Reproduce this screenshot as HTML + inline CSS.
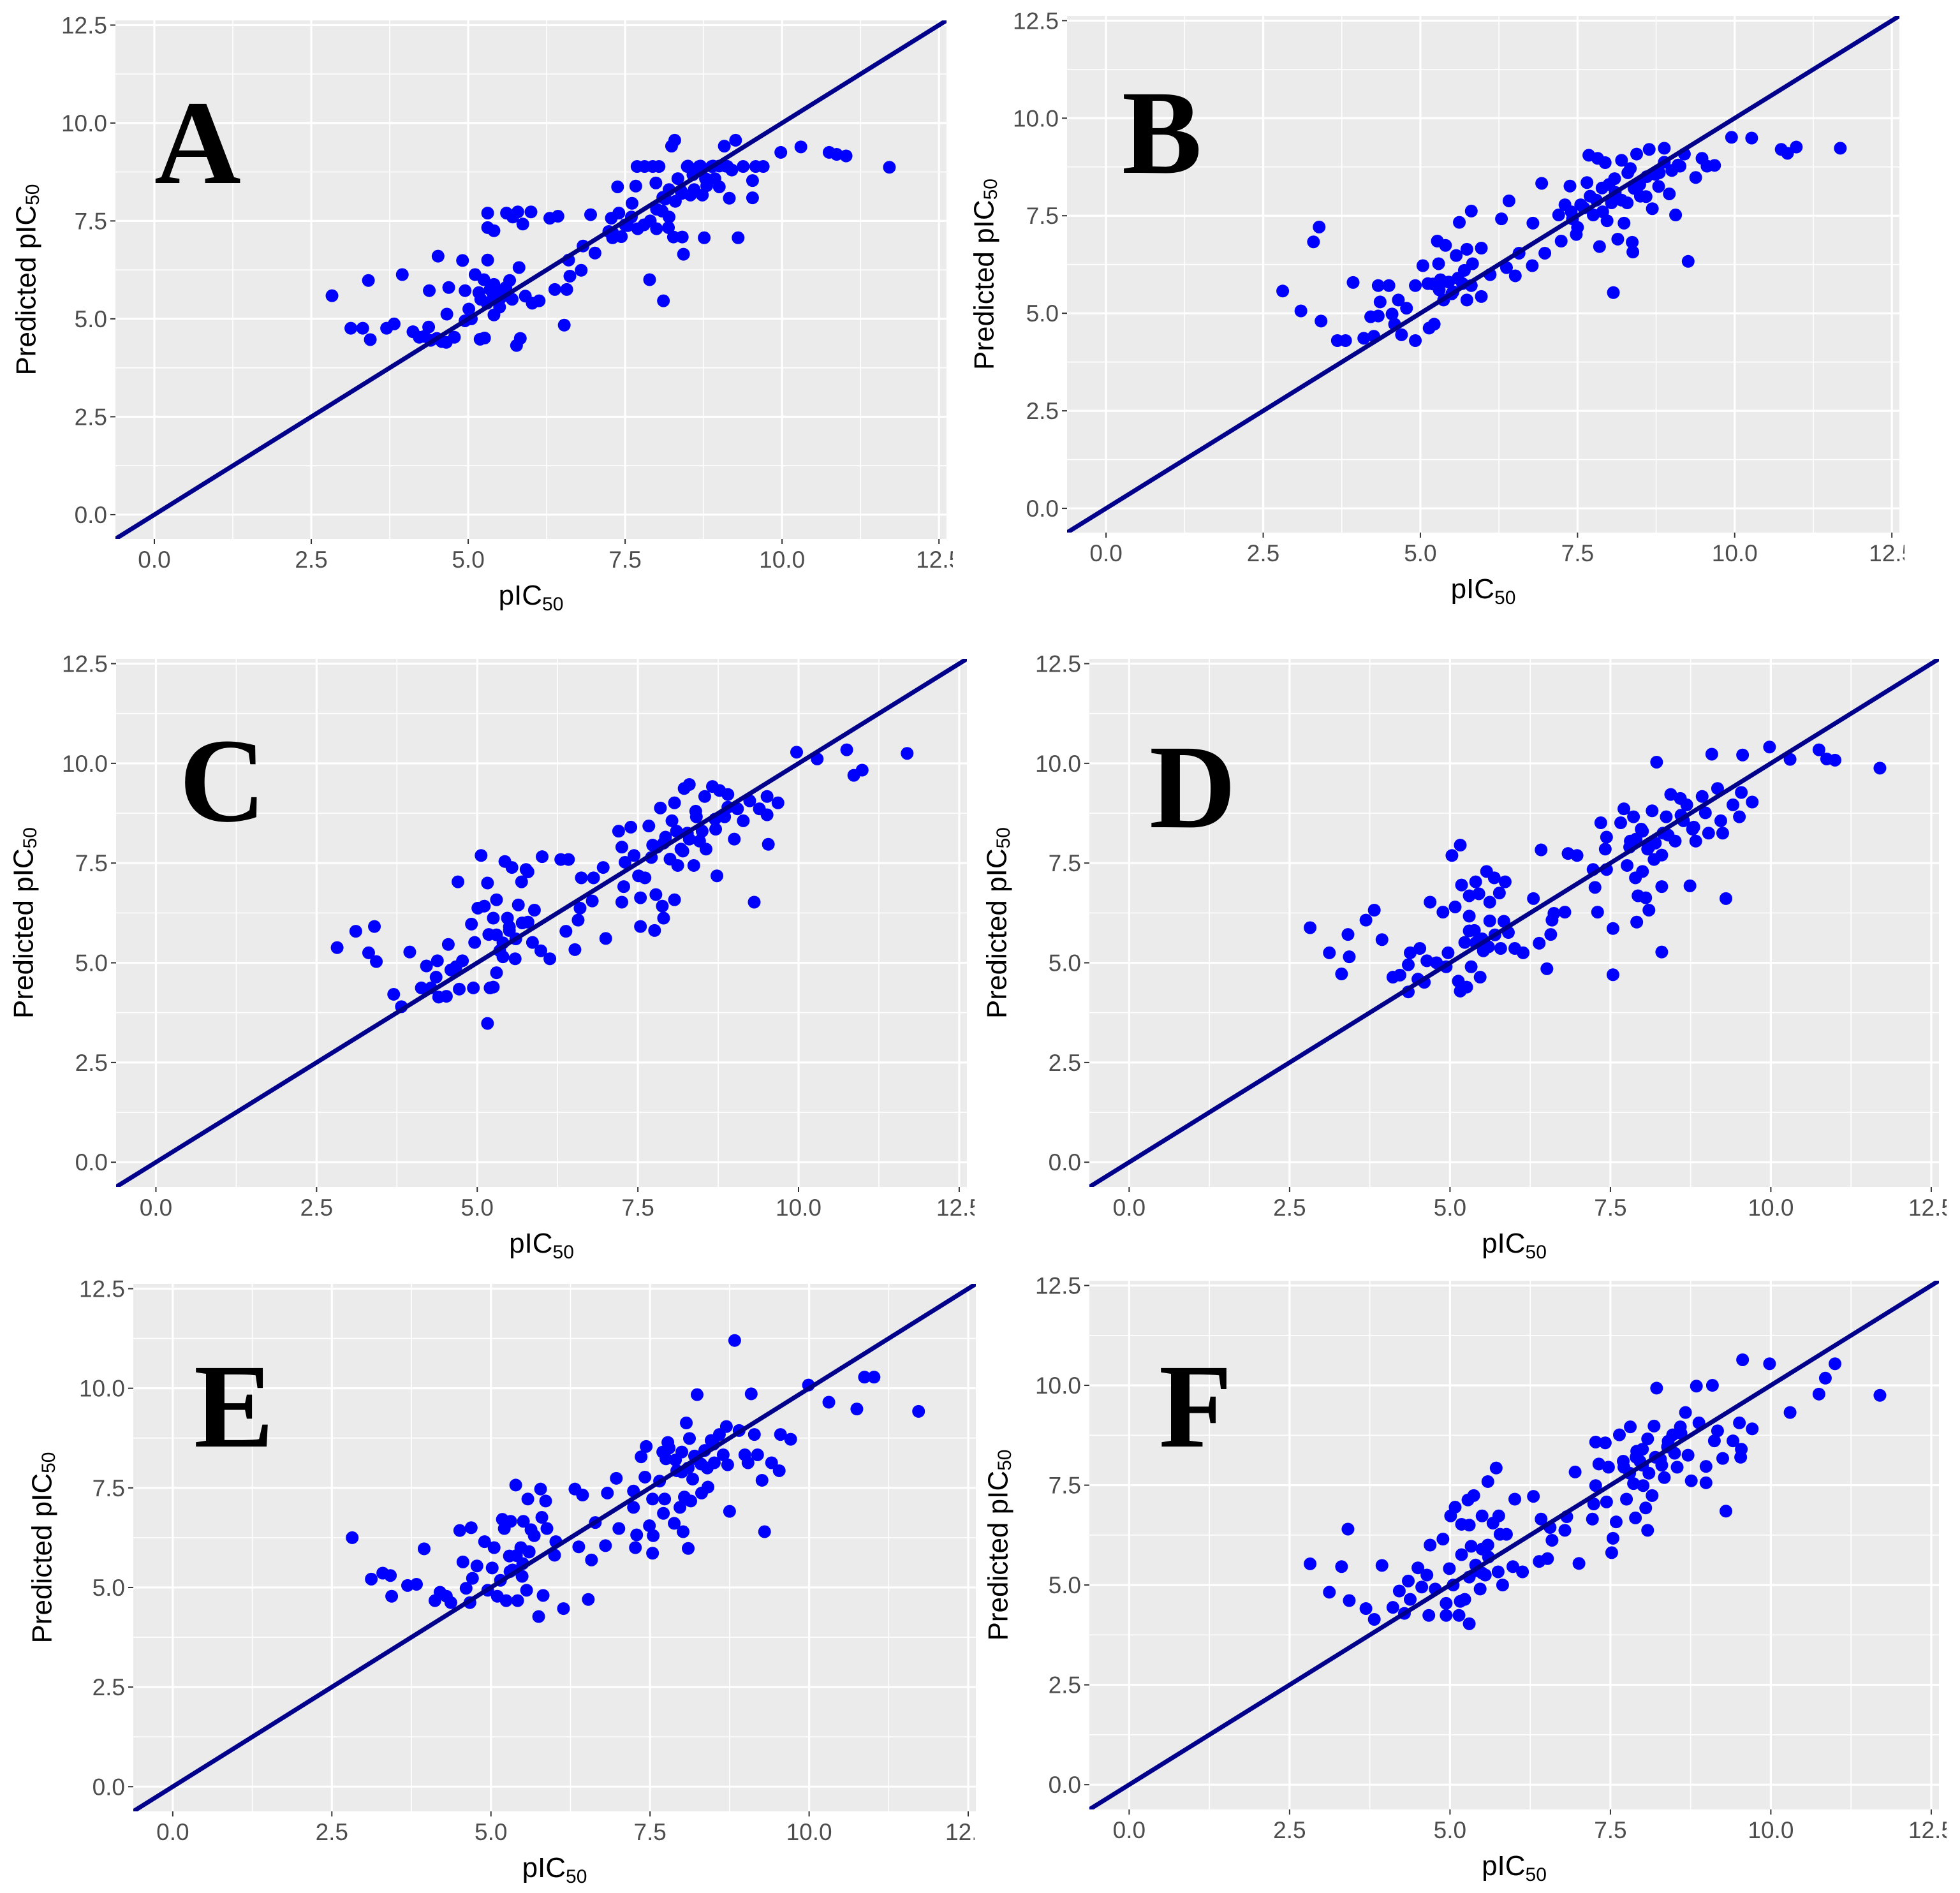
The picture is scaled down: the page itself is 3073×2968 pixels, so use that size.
<!DOCTYPE html>
<html><head><meta charset="utf-8"><style>
html,body{margin:0;padding:0;background:#fff;}
svg{display:block;}
text{font-family:"Liberation Sans",sans-serif;}
</style></head><body>
<svg id="fig" width="3073" height="2968" viewBox="0 0 3073 2968" xmlns="http://www.w3.org/2000/svg"></svg>
<script>
const tickValues = [0, 2.5, 5, 7.5, 10, 12.5];
const tickLabels = ["0.0", "2.5", "5.0", "7.5", "10.0", "12.5"];
const minorValues = [1.25, 3.75, 6.25, 8.75, 11.25];
const panelLetters = ["A", "B", "C", "D", "E", "F"];

const aX = [2.83,3.13,3.32,3.44,3.41,3.7,3.82,3.95,4.12,4.22,4.37,4.38,4.52,4.58,4.69,4.66,4.78,4.91,4.95,5.01,5.11,5.17,5.19,5.26,5.31,5.31,5.41,5.31,5.41,5.41,5.51,5.61,5.66,5.71,5.79,5.77,5.83,5.87,5.81,5.91,6.02,6.0,6.13,6.3,6.43,6.38,6.53,6.57,6.6,6.62,6.8,6.83,6.95,7.02,7.28,7.24,7.3,7.4,7.38,7.44,7.54,7.61,7.67,7.69,7.81,7.89,7.94,7.99,8.04,8.09,8.11,8.14,8.19,8.24,8.29,8.27,8.34,8.39,8.41,8.43,8.49,8.54,8.58,8.68,8.73,8.76,8.78,8.88,8.93,9.0,9.08,9.13,9.16,9.26,9.3,9.38,9.53,9.53,9.58,9.7,9.98,10.3,10.75,10.87,11.02,11.71,5.2,5.3,5.4,5.5,5.6,5.7,5.5,5.35,5.6,5.25,5.05,4.95,7.6,7.8,7.9,8.0,8.1,8.2,8.3,8.4,7.7,8.0,8.2,8.6,8.8,9.0,9.2,8.5,8.7,8.9,9.1,7.5,7.3,4.4,4.5,4.3,4.65];
const aY = [5.59,4.76,4.76,4.47,5.98,4.76,4.87,6.13,4.67,4.53,4.79,5.72,6.6,4.42,5.8,5.12,4.53,6.49,5.72,5.25,6.13,5.67,4.48,4.51,7.7,7.33,7.25,6.5,5.1,5.88,5.67,7.7,5.98,7.6,7.73,4.32,4.5,7.42,6.31,5.58,5.4,7.73,5.46,7.57,7.62,5.75,4.84,5.75,6.5,6.09,6.24,6.86,7.66,6.68,7.57,7.23,7.07,7.7,8.37,7.1,7.38,7.95,8.39,8.89,8.89,6.0,8.89,8.47,8.89,7.75,5.46,8.06,7.33,9.41,9.56,7.09,8.58,8.27,7.09,6.65,8.89,8.16,8.68,8.89,8.16,7.07,8.58,8.89,8.58,8.37,9.41,8.89,8.08,9.56,7.07,8.89,8.53,8.09,8.89,8.89,9.25,9.39,9.25,9.2,9.16,8.87,5.5,5.4,5.6,5.5,5.6,5.5,5.3,5.75,5.8,6.0,5.0,4.95,7.6,7.4,7.5,7.8,8.1,8.3,8.0,8.2,7.3,7.3,7.6,8.3,8.4,8.9,8.8,8.9,8.9,8.9,8.9,7.4,7.2,4.45,4.5,4.55,4.4];

const bX = [2.81,3.1,3.3,3.39,3.42,3.68,3.81,3.93,4.1,4.21,4.26,4.33,4.36,4.33,4.5,4.55,4.59,4.65,4.7,4.78,4.92,4.92,5.04,5.12,5.14,5.22,5.27,5.29,5.32,5.4,5.37,5.52,5.57,5.62,5.67,5.74,5.74,5.81,5.83,5.81,5.97,5.97,6.11,6.29,6.37,6.41,6.51,6.57,6.78,6.79,6.93,6.98,7.2,7.24,7.3,7.38,7.42,7.48,7.55,7.65,7.68,7.75,7.82,7.85,7.89,7.94,7.97,8.04,8.07,8.09,8.14,8.2,8.24,8.29,8.34,8.37,8.38,8.44,8.49,8.59,8.64,8.69,8.74,8.79,8.88,8.88,8.96,9.0,9.06,9.13,9.2,9.26,9.38,9.48,9.56,9.68,9.95,10.27,10.74,10.84,10.98,11.68,5.3,5.45,5.6,5.5,5.2,5.7,7.6,7.8,7.9,8.1,8.2,8.4,8.6,7.7,8.0,8.3,7.4,7.5,8.5,8.8,9.1];
const bY = [5.57,5.06,6.83,7.21,4.8,4.3,4.3,5.79,4.36,4.91,4.41,5.71,5.29,4.93,5.71,4.98,4.72,5.34,4.45,5.13,4.3,5.71,6.22,5.76,4.62,4.72,6.85,6.27,5.86,6.74,5.34,5.55,6.48,7.33,5.76,6.64,5.34,7.62,6.27,5.71,6.67,5.43,5.99,7.42,6.17,7.88,5.96,6.54,6.22,7.31,8.33,6.54,7.52,6.85,7.78,8.26,7.42,7.02,7.78,8.35,9.05,7.52,8.97,6.71,8.21,8.86,7.37,7.83,5.53,8.45,6.9,8.92,7.31,7.83,8.71,6.82,6.57,9.08,8.3,7.99,9.2,7.68,8.56,8.25,9.23,8.87,8.06,8.66,7.52,8.77,9.08,6.33,8.48,8.97,8.77,8.79,9.51,9.49,9.2,9.1,9.26,9.23,5.6,5.8,5.9,5.5,5.75,6.1,7.7,7.9,7.6,8.1,7.9,8.2,8.5,8.0,8.3,8.6,7.6,7.2,8.0,8.6,8.8];

const cX = [2.82,3.11,3.31,3.4,3.43,3.7,3.82,3.95,4.13,4.21,4.28,4.36,4.38,4.4,4.52,4.55,4.59,4.67,4.7,4.72,4.77,4.91,4.94,4.96,5.01,5.06,5.11,5.16,5.16,5.2,5.18,5.25,5.25,5.3,5.3,5.35,5.4,5.43,5.47,5.5,5.54,5.59,5.64,5.69,5.76,5.79,5.79,5.86,5.89,6.01,5.99,6.13,6.3,6.42,6.38,6.52,6.57,6.62,6.6,6.81,6.79,6.96,7.0,7.2,7.25,7.25,7.28,7.3,7.39,7.44,7.51,7.54,7.54,7.61,7.67,7.71,7.73,7.76,7.78,7.85,7.88,7.9,7.93,8.03,8.07,8.07,8.12,8.17,8.22,8.27,8.3,8.37,8.41,8.46,8.54,8.56,8.66,8.71,8.73,8.77,8.85,8.9,9.0,9.05,9.14,9.24,9.39,9.51,9.53,9.31,9.51,9.68,9.97,10.29,10.75,10.86,10.99,11.69,5.3,5.5,5.6,5.4,5.7,7.9,8.1,8.3,8.0,8.2,8.5,8.7,8.9,8.4,7.8];
const cY = [5.38,5.79,5.25,5.91,5.03,4.21,3.9,5.27,4.37,4.92,4.37,4.64,5.05,4.14,4.16,5.46,4.82,4.9,7.03,4.34,5.05,5.97,4.37,5.51,6.37,7.69,6.42,7.0,3.48,4.37,5.71,4.39,6.12,6.58,4.75,5.3,5.15,7.54,6.12,5.81,7.39,5.1,6.45,7.03,7.34,7.28,6.02,5.51,6.32,7.66,5.3,5.1,7.59,7.59,5.79,5.33,6.07,7.13,6.37,7.13,6.55,7.39,5.61,8.3,6.52,7.9,6.91,7.52,8.4,7.69,7.18,6.63,5.91,7.13,8.43,7.64,7.95,5.81,6.71,8.88,6.42,6.12,8.15,8.56,9.01,6.58,7.44,7.85,9.37,8.25,9.47,7.44,8.66,8.05,9.17,7.85,9.42,8.35,7.18,9.32,8.66,9.22,8.1,8.86,8.56,9.06,8.86,8.71,7.97,6.52,9.17,9.01,10.28,10.11,10.34,9.7,9.83,10.25,5.7,5.9,5.6,5.5,6.0,8.0,8.3,8.1,7.6,7.8,8.3,8.6,8.9,8.8,7.9];

const dX = [2.82,3.12,3.31,3.41,3.43,3.69,3.82,3.94,4.11,4.22,4.35,4.35,4.38,4.5,4.53,4.6,4.64,4.69,4.79,4.89,4.94,4.97,5.03,5.08,5.13,5.16,5.16,5.18,5.23,5.26,5.3,5.3,5.33,5.38,5.4,5.45,5.47,5.52,5.57,5.62,5.62,5.69,5.77,5.79,5.84,5.86,5.91,6.01,6.14,6.3,6.39,6.42,6.51,6.57,6.59,6.62,6.79,6.84,6.98,7.23,7.26,7.3,7.35,7.42,7.44,7.44,7.54,7.54,7.66,7.71,7.76,7.81,7.86,7.89,7.91,7.93,7.98,8.0,8.05,8.08,8.1,8.15,8.18,8.22,8.3,8.3,8.32,8.37,8.44,8.51,8.59,8.64,8.69,8.74,8.78,8.83,8.93,8.98,9.03,9.08,9.17,9.22,9.25,9.3,9.41,9.51,9.54,9.56,9.71,9.98,10.3,10.75,10.87,11.0,11.7,5.4,5.5,5.6,5.3,5.7,7.9,8.0,8.1,7.8,8.2,8.4,8.6,8.8,8.3];
const dY = [5.88,5.25,4.72,5.71,5.15,6.07,6.32,5.58,4.64,4.69,4.27,4.95,5.25,4.59,5.36,4.51,5.05,6.52,5.0,6.27,4.9,5.25,7.69,6.4,4.54,7.95,4.29,6.95,5.51,4.39,6.68,6.17,4.9,5.81,7.03,6.73,4.64,5.3,7.29,6.52,6.05,7.13,6.75,5.36,6.04,7.03,5.76,5.36,5.25,6.61,5.49,7.83,4.85,5.71,6.07,6.24,6.27,7.74,7.69,7.34,6.89,6.27,8.51,7.85,8.15,7.34,5.86,4.7,8.51,8.86,7.44,8.05,8.66,7.13,6.02,6.68,8.35,7.29,6.63,7.85,6.32,8.81,7.59,10.03,6.91,5.27,8.25,8.66,9.22,8.05,9.12,8.56,8.96,6.93,8.35,8.05,9.17,8.76,8.25,10.23,9.37,8.56,8.25,6.61,8.96,8.66,9.27,10.21,9.03,10.41,10.1,10.34,10.11,10.08,9.88,5.5,5.6,5.4,5.8,5.7,8.1,8.3,7.9,7.9,8.0,8.2,8.7,8.4,7.7];

const eX = [2.82,3.12,3.3,3.42,3.44,3.69,3.83,3.95,4.12,4.2,4.3,4.37,4.51,4.56,4.61,4.67,4.69,4.71,4.78,4.9,4.95,5.02,5.05,5.1,5.15,5.18,5.21,5.24,5.29,5.31,5.34,5.39,5.42,5.47,5.49,5.51,5.56,5.58,5.6,5.63,5.68,5.75,5.78,5.8,5.82,5.86,5.88,6.0,6.02,6.14,6.32,6.38,6.44,6.53,6.58,6.64,6.8,6.83,6.97,7.01,7.24,7.24,7.27,7.29,7.36,7.42,7.44,7.49,7.54,7.54,7.55,7.65,7.71,7.73,7.75,7.78,7.88,7.92,7.97,8.02,8.04,8.07,8.1,8.12,8.14,8.17,8.22,8.24,8.31,8.36,8.41,8.46,8.51,8.59,8.65,8.7,8.75,8.72,8.83,8.9,8.99,9.04,9.09,9.14,9.19,9.26,9.3,9.41,9.53,9.55,9.71,9.99,10.31,10.75,10.87,11.02,11.72,5.4,5.5,5.6,5.3,7.9,8.0,8.1,7.8,8.2,8.3,8.5,7.7,8.0,8.4];
const eY = [6.25,5.21,5.36,5.3,4.78,5.05,5.08,5.97,4.67,4.88,4.78,4.62,6.43,5.64,4.98,4.62,6.5,5.23,5.54,6.15,4.93,5.49,6.0,4.78,5.18,6.71,6.48,4.67,5.79,6.66,5.44,7.57,4.67,6.0,5.28,6.66,4.93,7.22,5.89,6.45,6.3,4.27,7.47,6.76,4.8,7.17,6.48,5.81,6.15,4.47,7.47,6.02,7.32,4.7,5.69,6.63,6.05,7.37,7.74,6.48,7.42,7.01,6.0,6.32,8.28,7.77,8.54,6.55,7.22,5.86,6.3,7.67,6.86,7.22,8.23,8.64,6.61,7.93,7.01,6.4,7.27,9.13,5.98,8.74,7.17,7.72,8.23,9.84,7.37,8.44,7.52,8.69,8.13,8.84,8.33,9.04,6.91,8.08,11.2,8.94,8.33,8.13,9.86,8.84,8.33,7.69,6.4,8.13,7.93,8.84,8.72,10.08,9.65,9.48,10.28,10.28,9.42,5.8,5.6,5.9,5.4,8.2,8.4,8.0,8.5,8.3,8.1,8.6,8.4,7.9,8.0];

const fX = [2.82,3.12,3.31,3.41,3.43,3.69,3.82,3.94,4.11,4.21,4.29,4.35,4.38,4.5,4.56,4.64,4.67,4.69,4.77,4.89,4.94,4.94,4.99,5.01,5.05,5.08,5.14,5.16,5.18,5.18,5.23,5.28,5.3,5.3,5.33,5.37,5.42,5.47,5.5,5.55,5.59,5.59,5.67,5.72,5.75,5.76,5.78,5.82,5.88,5.98,6.01,6.13,6.3,6.39,6.42,6.52,6.56,6.59,6.79,6.82,6.95,7.01,7.22,7.24,7.27,7.27,7.32,7.42,7.44,7.47,7.52,7.54,7.59,7.64,7.71,7.75,7.81,7.86,7.89,7.91,7.96,8.01,8.05,8.08,8.08,8.15,8.18,8.22,8.28,8.34,8.39,8.47,8.54,8.59,8.67,8.71,8.76,8.84,8.88,8.99,8.99,9.09,9.12,9.17,9.25,9.3,9.41,9.51,9.53,9.54,9.56,9.71,9.98,10.3,10.75,10.85,11.0,11.7,5.4,5.5,5.6,5.5,5.3,7.9,8.0,8.1,8.2,7.8,8.3,8.4,8.5,8.6,7.7,8.0];
const fY = [5.53,4.82,5.46,6.4,4.61,4.41,4.14,5.49,4.44,4.85,4.29,5.1,4.64,5.43,4.95,5.25,4.24,6.0,4.9,6.15,4.54,4.24,5.41,6.73,5.0,6.95,4.24,4.59,6.52,5.76,4.64,7.13,6.5,4.03,5.97,7.24,5.36,4.9,6.73,5.25,7.59,6.0,6.55,7.93,5.33,6.73,6.27,5.0,6.27,5.46,7.15,5.33,7.22,5.59,6.65,5.66,6.44,6.12,6.37,6.71,7.83,5.54,6.65,7.03,7.49,8.58,8.03,8.56,7.08,7.95,5.81,6.17,6.58,8.76,7.95,7.15,8.96,7.54,6.68,8.35,8.1,7.49,6.93,6.37,8.66,7.24,8.98,9.93,8.15,7.69,8.46,8.76,7.95,8.96,9.32,8.25,7.61,9.98,9.06,7.56,7.97,10.0,8.61,8.86,8.17,6.85,8.61,9.06,8.2,8.4,10.64,8.91,10.54,9.32,9.78,10.18,10.54,9.75,5.5,5.3,5.7,5.9,5.2,8.2,8.0,7.8,8.2,7.8,8.0,8.6,8.3,8.8,8.1,8.4];

const seriesX = [aX, bX, cX, dX, eX, fX];
const seriesY = [aY, bY, cY, dY, eY, fY];

// layout (pixels) - not data
const panels = [
  {l:181, t:32, r:1484, b:845, yt:137, lx:242, ly:287, cut:10},
  {l:1673, t:25, r:2978, b:835, yt:127, lx:1759, ly:271, cut:8},
  {l:182, t:1033, r:1516, b:1861, yt:142, lx:281, ly:1287, cut:12},
  {l:1708, t:1033, r:3040, b:1861, yt:142, lx:1802, ly:1297, cut:12},
  {l:209, t:2013, r:1530, b:2840, yt:140, lx:304, ly:2268, cut:-2},
  {l:1708, t:2008, r:3040, b:2837, yt:140, lx:1817, ly:2268, cut:12}
];
const DMIN = -0.62, DMAX = 12.62;
const NS = "http://www.w3.org/2000/svg";
const svg = document.getElementById('fig');
function mk(tag, attrs, parent) {
  const e = document.createElementNS(NS, tag);
  for (const k in attrs) e.setAttribute(k, attrs[k]);
  parent.appendChild(e);
  return e;
}
const defs = mk('defs', {}, svg);

panels.forEach((p, i) => {
  const sx = v => p.l + (v - DMIN) / (DMAX - DMIN) * (p.r - p.l);
  const sy = v => p.b - (v - DMIN) / (DMAX - DMIN) * (p.b - p.t);
  const g = mk('g', {}, svg);
  
  
  const cp = mk('clipPath', {id: 'clip' + i}, defs);
  mk('rect', {x: p.l, y: p.t, width: p.r - p.l, height: p.b - p.t}, cp);
  const bg = mk('rect', {x: p.l, y: p.t, width: p.r - p.l, height: p.b - p.t, fill: '#ebebeb'}, g);
  
  
  const grid = mk('g', {'clip-path': 'url(#clip' + i + ')'}, g);
  
  
  minorValues.forEach(v => {
    mk('line', {x1: sx(v), x2: sx(v), y1: p.t, y2: p.b, stroke: '#fff', 'stroke-width': 1.6}, grid);
    mk('line', {x1: p.l, x2: p.r, y1: sy(v), y2: sy(v), stroke: '#fff', 'stroke-width': 1.6}, grid);
  });
  tickValues.forEach(v => {
    mk('line', {x1: sx(v), x2: sx(v), y1: p.t, y2: p.b, stroke: '#fff', 'stroke-width': 3.2}, grid);
    mk('line', {x1: p.l, x2: p.r, y1: sy(v), y2: sy(v), stroke: '#fff', 'stroke-width': 3.2}, grid);
  });
  tickValues.forEach((v, k) => {
    mk('line', {x1: p.l - 8, x2: p.l, y1: sy(v), y2: sy(v), stroke: '#333', 'stroke-width': 2}, g);
    mk('line', {x1: sx(v), x2: sx(v), y1: p.b, y2: p.b + 8, stroke: '#333', 'stroke-width': 2}, g);
    const yl = mk('text', {x: p.l - 13, y: sy(v) + 13, 'text-anchor': 'end', 'font-size': 37, fill: '#4d4d4d'}, g);
    yl.textContent = tickLabels[k];
    
    
    const xl = mk('text', {x: sx(v), y: p.b + 45, 'text-anchor': 'middle', 'font-size': 37, fill: '#4d4d4d'}, g);
    xl.textContent = tickLabels[k];
    
    
  });
  // crop mask (reference panels are cut at the right edge)
  mk('rect', {x: p.r + p.cut, y: p.b + 10, width: 80, height: 50, fill: '#fff'}, g);
  const pts = mk('g', {'clip-path': 'url(#clip' + i + ')'}, g);
  
  
  seriesX[i].forEach((xv, k) => {
    const c = mk('circle', {cx: sx(xv), cy: sy(seriesY[i][k]), r: 10, fill: '#0000ff'}, pts);
    
    
  });
  const ln = mk('line', {x1: sx(DMIN), y1: sy(DMIN), x2: sx(DMAX), y2: sy(DMAX), stroke: '#00008b', 'stroke-width': 7, 'clip-path': 'url(#clip' + i + ')'}, g);
  
  
  const xt = mk('text', {x: (p.l + p.r) / 2, y: p.b + 103, 'text-anchor': 'middle', 'font-size': 44, fill: '#000'}, g);
  xt.innerHTML = 'pIC<tspan font-size="30" dy="9">50</tspan>';
  
  
  const cy = (p.t + p.b) / 2, cx = p.l - p.yt;
  const yt = mk('text', {x: cx, y: cy, transform: 'rotate(-90 ' + cx + ' ' + cy + ')', 'text-anchor': 'middle', 'dominant-baseline': 'middle', 'font-size': 44, fill: '#000'}, g);
  yt.innerHTML = 'Predicted pIC<tspan font-size="30" dy="9">50</tspan>';
  
  
  const lt = mk('text', {x: p.lx, y: p.ly, 'font-size': 188, 'font-weight': 'bold', fill: '#000', style: 'font-family:"Liberation Serif",serif'}, g);
  lt.textContent = panelLetters[i];
  
  
});
</script>
</body></html>
